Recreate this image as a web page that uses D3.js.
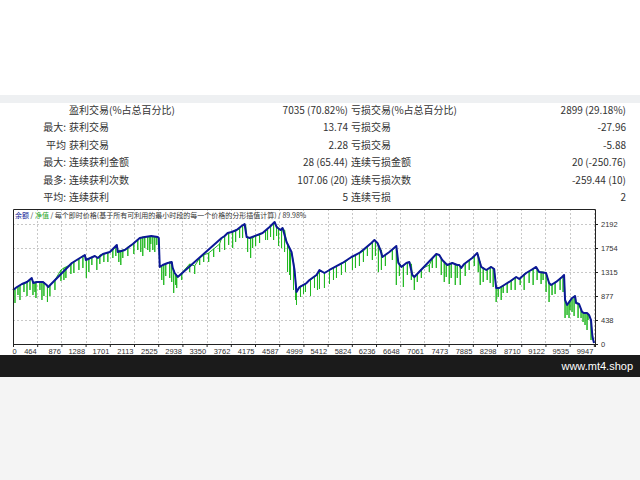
<!DOCTYPE html>
<html><head><meta charset="utf-8">
<script src="https://cdn.jsdelivr.net/npm/d3@7"></script>
<style>
html,body{margin:0;padding:0;background:#fff;}
svg{display:block;}
</style></head>
<body>
<svg id="c" width="640" height="480"></svg>
<script>
// ---------- summary table ----------
const rowPrefix   = ["", "最大:", "平均", "最大:", "最多:", "平均:"];
const leftLabels  = ["盈利交易(%占总百分比)", "获利交易", "获利交易", "连续获利金额", "连续获利次数", "连续获利"];
const leftValues  = ["7035 (70.82%)", "13.74", "2.28", "28 (65.44)", "107.06 (20)", "5"];
const rightLabels = ["亏损交易(%占总百分比)", "亏损交易", "亏损交易", "连续亏损金额", "连续亏损次数", "连续亏损"];
const rightValues = ["2899 (29.18%)", "-27.96", "-5.88", "20 (-250.76)", "-259.44 (10)", "2"];

// ---------- chart ----------
const legendParts = ["余额", " / ", "净值", " / 每个即时价格(基于所有可利用的最小时段的每一个价格的分形插值计算) / 89.98%"];
const xTickLabels = ["0","464","876","1288","1701","2113","2525","2938","3350","3762","4175","4587","4999","5412","5824","6236","6648","7061","7473","7885","8298","8710","9122","9535","9947"];
const yTickLabels = ["0","438","877","1315","1754","2192"];
const yTickValues = [0, 438.4, 876.8, 1315.2, 1753.6, 2192];
const totalTrades = 9934;
const xTickStep = 413.1;
const yMax = 2466;

// balance curve (trade #, balance)
const balanceT = [0,68,153,239,319,346,409,511,574,601,971,1005,1142,1227,1244,1397,1448,1534,1653,1772,1789,1908,2045,2164,2249,2360,2471,2488,2505,2556,2641,2709,2726,2760,2812,3561,3612,3664,3732,3817,3902,3953,3988,4039,4260,4379,4465,4499,4567,4601,4669,4754,4805,4839,4891,5010,5061,5180,5231,5316,5402,5623,5777,5913,6117,6169,6220,6271,6305,6424,6543,6577,6629,6714,6765,6816,6850,7225,7276,7327,7412,7498,7583,7617,7651,7702,7838,7924,7958,7992,8077,8162,8213,8247,8299,8384,8469,8588,8640,8759,8844,8929,8980,9099,9150,9185,9270,9372,9406,9423,9457,9542,9594,9611,9662,9713,9747,9798,9832,9866,9883,9892,9917];
const balanceV = [987,1041,1096,1133,1206,1114,1133,1133,1078,1041,1443,1480,1571,1626,1535,1608,1571,1644,1681,1809,1681,1717,1827,1937,1955,1973,1955,1937,1407,1443,1480,1498,1389,1297,1224,1937,1973,2028,2046,2083,2156,2192,1955,1937,2028,2138,2229,2138,2083,2119,1864,1681,1352,950,1041,1114,1169,1261,1352,1297,1352,1480,1589,1663,1845,1900,1845,1717,1589,1681,1790,1480,1407,1480,1498,1261,1224,1644,1626,1535,1443,1480,1443,1443,1389,1462,1571,1663,1535,1407,1352,1407,1370,1023,1023,1078,1133,1224,1188,1297,1352,1407,1315,1297,1114,1078,1133,1224,1261,804,713,840,877,749,731,585,566,566,530,438,219,128,18];

// equity drawdown spikes (trade #, equity before spike, equity low)
const dipT   = [9,34,85,187,290,341,392,460,528,588,818,903,1039,1125,1252,1346,1431,1551,1704,1806,1874,1960,2181,2249,2300,2352,2420,2539,2573,2675,2743,2777,3016,3186,3255,3425,3527,3681,3749,3868,3919,4005,4056,4141,4311,4396,4448,4584,4635,4686,4737,4788,4839,4907,4992,5146,5231,5316,5402,5521,5606,5794,5845,5913,6134,6237,6288,6543,6595,6663,6799,6850,6901,7106,7225,7310,7395,7480,7549,7634,7787,7941,7975,8026,8145,8196,8247,8282,8367,8435,8571,8657,8810,8878,8946,9099,9150,9201,9338,9423,9457,9508,9577,9645,9696,9764,9815,9866,
  119,239,375,494,630,716,869,988,1193,1295,1482,1619,1755,1840,2062,2130,2215,2335,2386,2454,2607,2709,2794,2880,3101,3340,3612,3800,3970,4090,4209,4345,4499,4533,4720,4822,4959,5078,5197,5470,5675,5981,6049,6186,6356,6475,6731,6970,7157,7361,7446,7583,7719,7873,8094,8333,8503,8725,9014,9048,9253,9389,9491,9542,9730,9798];
const dipTop = [987,1005,1041,1096,1169,1114,1133,1133,1133,1060,1352,1407,1498,1553,1571,1589,1589,1644,1717,1717,1717,1772,1937,1955,1955,1955,1955,1425,1443,1498,1352,1279,1462,1571,1626,1736,1827,2028,2046,2101,2156,1955,1937,1973,2064,2138,2211,2101,2083,1827,1644,1498,950,1060,1096,1224,1352,1297,1352,1425,1462,1589,1626,1663,1864,1827,1717,1772,1480,1425,1462,1242,1279,1443,1644,1571,1462,1480,1462,1425,1535,1626,1498,1389,1407,1389,1023,1023,1060,1114,1206,1206,1315,1352,1370,1297,1114,1096,1206,804,713,804,877,749,621,566,548,438,
  1078,1133,1133,1133,1078,1169,1389,1462,1608,1553,1626,1663,1790,1700,1845,1900,1955,1955,1955,1955,1462,1498,1242,1297,1425,1663,1973,2083,2174,1937,1991,2101,2156,2101,1717,1169,1078,1169,1261,1389,1498,1700,1772,1882,1626,1717,1480,1370,1553,1498,1443,1443,1480,1608,1352,1041,1151,1279,1315,1315,1114,1242,767,840,585,566];
const dipLow = [676,749,895,950,987,895,840,987,877,767,1151,1206,1297,1352,1206,1443,1352,1498,1571,1498,1571,1608,1681,1754,1717,1827,1681,1169,1078,1206,932,1078,1315,1443,1498,1589,1681,1809,1754,1937,1937,1681,1571,1790,1900,1955,1900,1754,1681,1315,1169,987,713,859,950,1023,1005,1023,1096,1206,1261,1352,1389,1425,1535,1315,1352,1078,1242,1041,1169,987,1133,1315,1389,1261,1224,1206,1078,1078,1352,1315,1078,1133,1114,1041,767,859,932,932,987,1078,1114,1078,1169,950,767,895,987,475,530,621,512,475,475,347,438,73,
  804,877,950,804,877,987,1169,1279,1389,1315,1462,1498,1608,1443,1644,1717,1608,1681,1717,1809,1242,1133,1023,1169,1279,1498,1717,1864,2010,1754,1845,1900,1973,1790,1261,804,913,877,987,1169,1315,1498,1608,1608,1425,1535,1261,1206,1389,1133,1096,1206,1242,1425,1169,804,987,987,1096,1169,913,950,475,585,402,256];

const svg = d3.select("#c");
const FONT = "'Noto Sans CJK SC','Noto Sans',sans-serif";
const txt = "#333";

// background band
svg.append("rect").attr("x",0).attr("y",95).attr("width",640).attr("height",8).attr("fill","#eef0f2");

// table
const rowY = d3.scalePoint().domain(d3.range(rowPrefix.length)).range([114, 201]);
const tbl = svg.append("g").attr("font-family", FONT).attr("font-size", 10).attr("fill", txt);
rowPrefix.forEach((p,i)=>{
  tbl.append("text").attr("x",66).attr("y",rowY(i)).attr("text-anchor","end").text(p);
  tbl.append("text").attr("x",69).attr("y",rowY(i)).text(leftLabels[i]);
  tbl.append("text").attr("x",348).attr("y",rowY(i)).attr("text-anchor","end").text(leftValues[i]);
  tbl.append("text").attr("x",351).attr("y",rowY(i)).text(rightLabels[i]);
  tbl.append("text").attr("x",626).attr("y",rowY(i)).attr("text-anchor","end").text(rightValues[i]);
});

// chart scales
const L = 13, R = 595, T = 209, B = 344;
const x = d3.scaleLinear().domain([0, totalTrades]).range([L, R]);
const y = d3.scaleLinear().domain([0, yMax]).range([B, T]);

const g = svg.append("g");
// grid
const xTickPos = xTickLabels.map((_,i)=> i * xTickStep);
g.selectAll(".vg").data(xTickPos.slice(1)).join("line")
  .attr("x1",d=>Math.round(x(d))+0.5).attr("x2",d=>Math.round(x(d))+0.5)
  .attr("y1",T).attr("y2",B)
  .attr("stroke","#c8c8c8").attr("stroke-dasharray","2,2").attr("stroke-width",1);
g.selectAll(".hg").data(yTickValues.slice(1)).join("line")
  .attr("x1",L).attr("x2",R)
  .attr("y1",d=>Math.round(y(d))+0.5).attr("y2",d=>Math.round(y(d))+0.5)
  .attr("stroke","#c8c8c8").attr("stroke-dasharray","2,2").attr("stroke-width",1);

// equity = balance points + drawdown spikes, ordered by trade number
const eqPts = balanceT.map((t,i)=>[t, balanceV[i], 0]);
dipT.forEach((t,i)=>{ eqPts.push([t, dipTop[i], 1]); eqPts.push([t, dipLow[i], 2]); eqPts.push([t, dipTop[i], 3]); });
eqPts.sort((a,b)=> a[0]-b[0] || (a[2]===0 ? -1 : b[2]===0 ? 1 : a[2]-b[2]));
const line = d3.line().x(d=>x(d[0])).y(d=>y(d[1]));
g.append("path").datum(eqPts).attr("d", line).attr("fill","none")
  .attr("stroke","#22b822").attr("stroke-width",1);

// balance
g.append("path").datum(balanceT.map((t,i)=>[t,balanceV[i]])).attr("d", line).attr("fill","none")
  .attr("stroke","#0c1896").attr("stroke-width",2).attr("stroke-linejoin","round");

// frame
g.append("path").attr("d",`M${L+0.5},${B}V${T+0.5}H${R+0.5}V${B+0.5}H${L}`)
  .attr("fill","none").attr("stroke","#222").attr("stroke-width",1);

// axes
const xAxis = d3.axisBottom(x).tickValues(xTickPos).tickSize(3).tickFormat((d,i)=>xTickLabels[i]);
const ga = svg.append("g").attr("transform",`translate(0,${B})`).call(xAxis);
ga.select(".domain").attr("stroke","#222");
ga.selectAll(".tick line").attr("stroke","#222");
ga.selectAll(".tick text").attr("font-family","'Liberation Sans',Arial,sans-serif").attr("font-size",7.5)
  .attr("fill",txt).attr("text-anchor",(d,i)=> i===0 ? "start" : "end")
  .attr("dx",-1).attr("dy","0.5em");

const yAxis = d3.axisRight(y).tickValues(yTickValues).tickSize(3).tickFormat((d,i)=>yTickLabels[i]);
const gy = svg.append("g").attr("transform",`translate(${R},0)`).call(yAxis);
gy.select(".domain").remove();
gy.selectAll(".tick line").attr("stroke","#222");
gy.selectAll(".tick text").attr("font-family","'Liberation Sans',Arial,sans-serif").attr("font-size",7.5).attr("fill",txt);

// legend
const leg = svg.append("text").attr("x",15).attr("y",218).attr("font-family",FONT).attr("font-size",7).attr("fill",txt);
const legColors = ["#0c1896", txt, "#1fa51f", txt];
legendParts.forEach((p,i)=> leg.append("tspan").attr("fill",legColors[i]).text(p));

// bottom bar
svg.append("rect").attr("x",0).attr("y",355).attr("width",640).attr("height",22).attr("fill","#1b1b1b");
svg.append("rect").attr("x",0).attr("y",377).attr("width",640).attr("height",103).attr("fill","#f4f4f4");
svg.append("text").attr("x",633).attr("y",370).attr("text-anchor","end")
  .attr("font-family","'Liberation Sans',Arial,sans-serif").attr("font-size",11).attr("fill","#fff").text("www.mt4.shop");
</script>
</body></html>
